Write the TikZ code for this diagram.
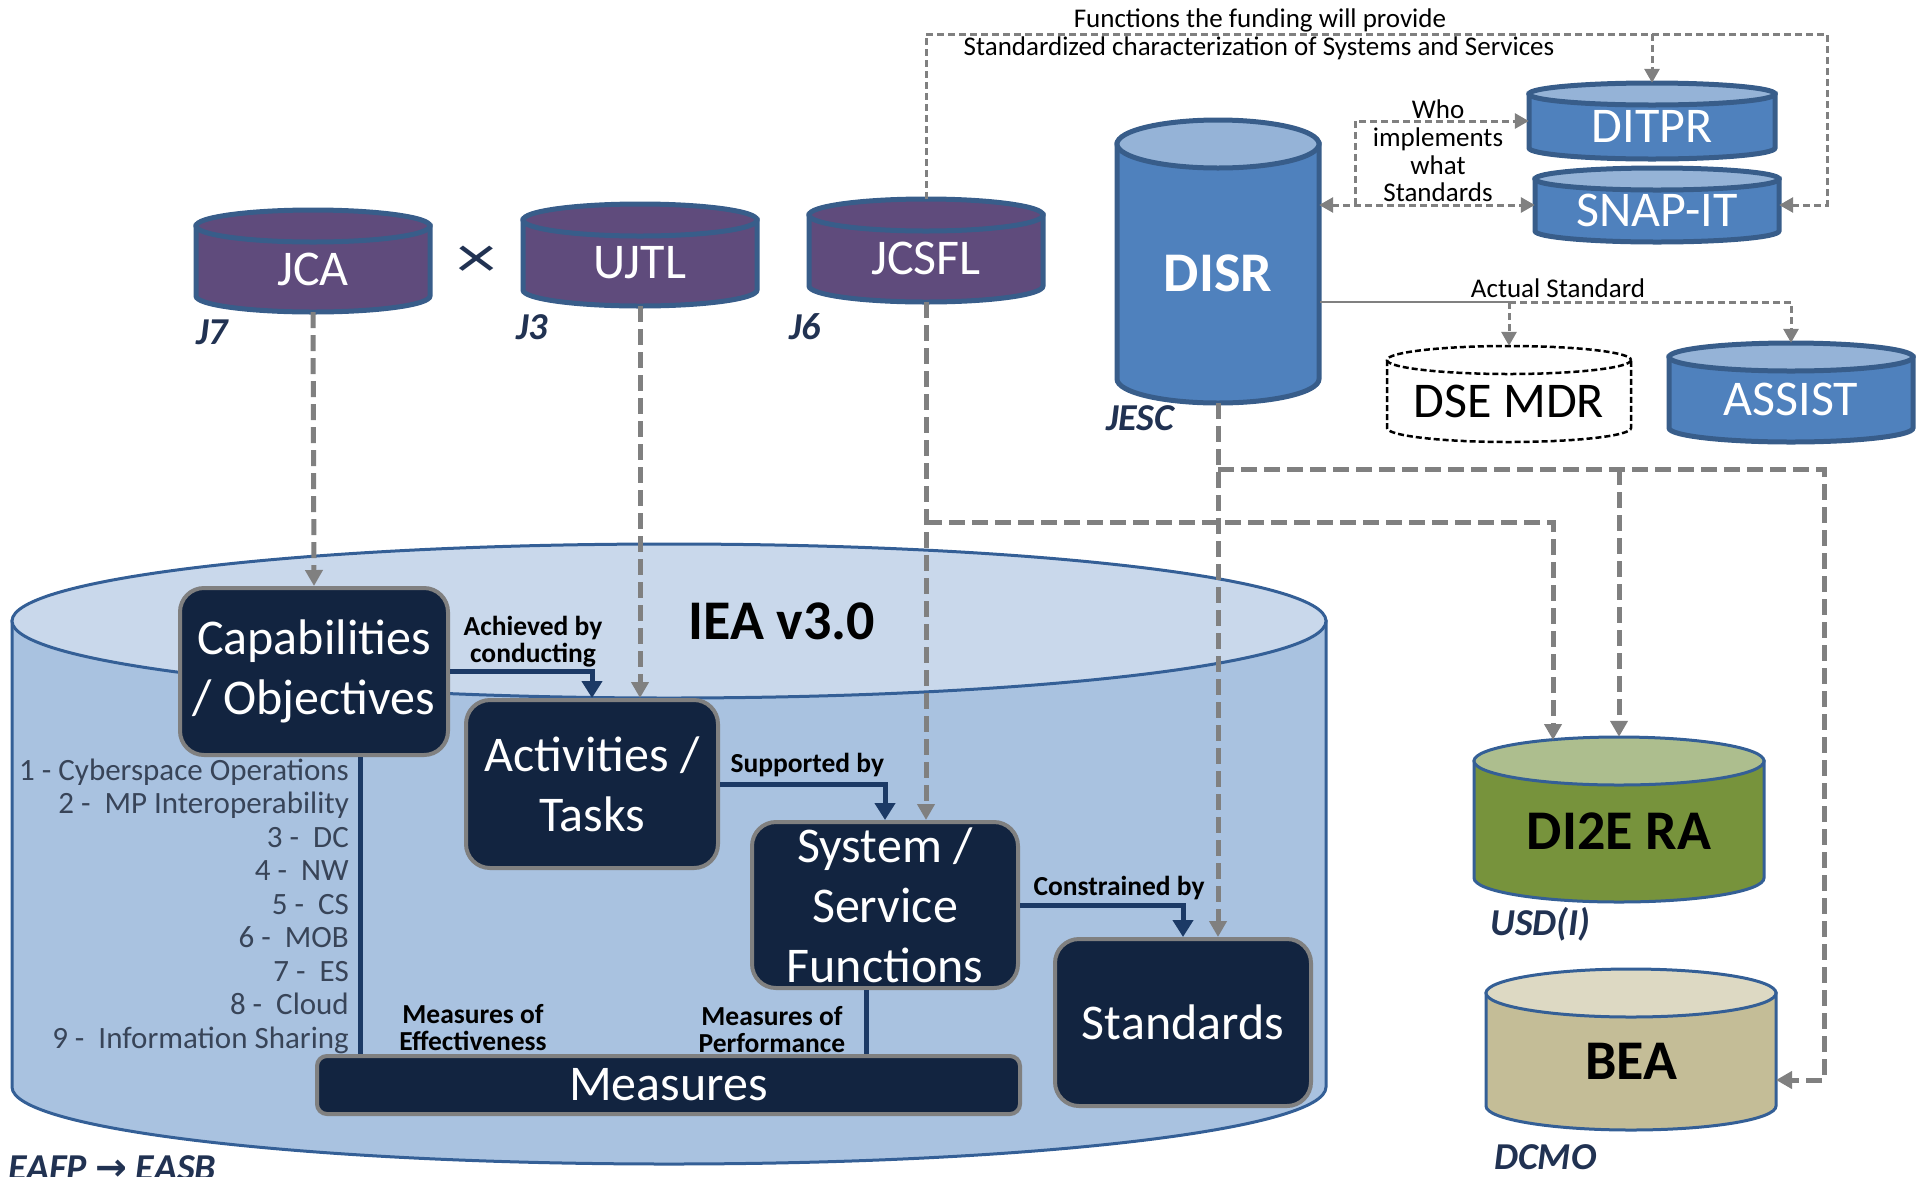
\documentclass[tikz,border=0pt]{standalone}
\usepackage{fontspec}
\setmainfont{Carlito}
\newfontfamily\arrowfont{DejaVu Sans}
\usetikzlibrary{arrows.meta,calc}
\definecolor{boxnavy}{RGB}{18,36,64}
\definecolor{boxrim}{RGB}{128,128,128}
\definecolor{linkblue}{RGB}{28,58,102}
\definecolor{ieaside}{RGB}{169,194,224}
\definecolor{ieatop}{RGB}{201,216,235}
\definecolor{ieaedge}{RGB}{52,95,150}
\definecolor{jpurple}{RGB}{95,75,124}
\definecolor{dbedge}{RGB}{56,93,138}
\definecolor{dbblue}{RGB}{79,129,189}
\definecolor{dbtop}{RGB}{149,179,215}
\definecolor{raside}{RGB}{119,147,60}
\definecolor{ratop}{RGB}{173,190,142}
\definecolor{beaside}{RGB}{196,189,151}
\definecolor{beatop}{RGB}{221,217,195}
\definecolor{routegray}{RGB}{128,128,128}
\definecolor{listtext}{RGB}{56,68,88}
\definecolor{ownerblue}{RGB}{33,50,82}
\tikzset{
  box/.style={rectangle,rounded corners=24pt,fill=boxnavy,draw=boxrim,line width=4pt,
    text=white,align=center,inner sep=0pt,font=\fontsize{50}{60}\selectfont},
  bar/.style={box,rounded corners=10pt},
  link/.style={draw=linkblue,line width=5pt,-{Triangle[width=20pt,length=17pt]}},
  stem/.style={draw=linkblue,line width=5pt},
  feed/.style={draw=routegray,line width=5pt,dash pattern=on 16pt off 7pt,-{Triangle[width=17pt,length=16pt]}},
  route/.style={draw=routegray,line width=3pt,dash pattern=on 7pt off 4pt,-{Triangle[width=15pt,length=14pt]}},
  tag/.style={font=\fontsize{27.5}{27}\bfseries\selectfont,align=center},
  note/.style={font=\fontsize{27}{27.7}\selectfont,align=center},
  owner/.style={font=\fontsize{38}{40}\bfseries\itshape\selectfont,text=ownerblue,anchor=west,inner sep=0pt},
  white text/.style={text=white,font=\fontsize{50}{60}\selectfont},
  bold white/.style={text=white,font=\fontsize{56}{60}\bfseries\selectfont},
  black text/.style={text=black,font=\fontsize{50}{60}\selectfont},
  bold black/.style={text=black,font=\fontsize{56}{60}\bfseries\selectfont},
  % cylinder looks
  iea body/.style={fill=ieaside,draw=ieaedge,line width=3pt},
  iea top/.style={fill=ieatop,draw=ieaedge,line width=3pt},
  j body/.style={fill=jpurple,draw=dbedge,line width=5pt},
  j top/.style={j body},
  db body/.style={fill=dbblue,draw=dbedge,line width=5pt},
  db top/.style={fill=dbtop,draw=dbedge,line width=5pt},
  mdr body/.style={fill=white,draw=black,line width=2.5pt,dash pattern=on 6pt off 3pt},
  mdr top/.style={mdr body},
  ra body/.style={fill=raside,draw=ieaedge,line width=3pt},
  ra top/.style={fill=ratop,draw=ieaedge,line width=3pt},
  bea body/.style={fill=beaside,draw=ieaedge,line width=3pt},
  bea top/.style={fill=beatop,draw=ieaedge,line width=3pt},
}
% name, centre x, top, bottom, x radius, y radius, look, text style, text
\newcommand{\drum}[9]{%
  \pgfmathsetmacro{\drumtc}{#3+#6}%
  \pgfmathsetmacro{\drumbc}{#4-#6}%
  \path[#7 body] (#2-#5,\drumtc) -- (#2-#5,\drumbc)
    arc[start angle=180,end angle=0,x radius=#5,y radius=#6] -- (#2+#5,\drumtc) -- cycle;
  \path[#7 top] (#2,\drumtc) ellipse[x radius=#5,y radius=#6];
  \node[inner sep=0pt,minimum width=2*#5,minimum height=#4-#3] (#1) at (#2,{(#3+#4)/2}) {};
  \node[#8] (#1-t) at (#2,{(\drumtc+#4)/2}) {#9};
}
\begin{document}
\begin{tikzpicture}[x=1pt,y=-1pt]
\useasboundingbox (0,0) rectangle (1916,1176);
% architecture store
\drum{iea}{669}{544}{1164}{657}{77}{iea}{tag}{}
\node[font=\fontsize{56}{60}\bfseries\selectfont] (ieaname) at (782,621) {IEA v3.0};
% sources
\drum{jca}{313}{210}{312}{117}{16}{j}{white text}{JCA}
\drum{ujtl}{640}{204}{306}{117}{16}{j}{white text}{UJTL}
\drum{jcsfl}{926}{199}{302}{117}{16}{j}{white text}{JCSFL}
\drum{disr}{1218}{120}{403}{101}{24}{db}{bold white}{DISR}
\drum{ditpr}{1652}{83}{159}{123}{11}{db}{white text}{DITPR}
\drum{snap}{1657}{168}{242}{122}{11}{db}{white text}{SNAP-IT}
\drum{mdr}{1509}{346}{442}{122}{14}{mdr}{black text}{DSE MDR}
\drum{assist}{1791}{343}{442}{122}{14}{db}{white text}{ASSIST}
\drum{ra}{1619}{737}{902}{145}{24}{ra}{bold black}{DI2E RA}
\drum{bea}{1631}{969}{1130}{145}{24}{bea}{bold black}{BEA}
\node[text=ownerblue,font=\fontsize{60}{60}\selectfont] (cross) at (477,262) {\scalebox{1.35}[1]{×}};
% owners
\node[owner] (j7) at (196,332) {J7};
\node[owner] (j3) at (516,327) {J3};
\node[owner] (j6) at (789,327) {J6};
\node[owner] (jesc) at (1106,418) {JESC};
\node[owner] (usdi) at (1490,924) {USD(I)};
\node[owner] (dcmo) at (1494,1157) {DCMO};
\node[owner,anchor=base west] (eafp) at (8,1180) {EAFP {\arrowfont →} EASB};
% architecture content
\node[box,minimum width=268,minimum height=167] (cap) at (314,671.5) {Capabilities\\/ Objectives};
\node[box,minimum width=252,minimum height=168] (act) at (592,784) {Activities /\\Tasks};
\node[box,minimum width=266,minimum height=166] (sys) at (885,905) {System /\\Service\\Functions};
\node[box,minimum width=256,minimum height=167] (std) at (1183,1022.5) {Standards};
\node[bar,minimum width=703,minimum height=58] (meas) at (668.5,1085) {Measures};
\node[anchor=east,align=right,text=listtext,font=\fontsize{31}{33.5}\selectfont,inner sep=0pt] (caplist) at (349,906)
  {1 - Cyberspace Operations\\2 -\ \ MP Interoperability\\3 -\ \ DC\\4 -\ \ NW\\5 -\ \ CS\\
   6 -\ \ MOB\\7 -\ \ ES\\8 -\ \ Cloud\\9 -\ \ Information Sharing};
\draw[link] (cap.east) -| (act.north);
\draw[link] (act.east) -| (sys.north);
\draw[link] (sys.east) -| (std.north);
\draw[stem] ([xshift=46]cap.south) -- ([xshift=46]cap.south |- meas.north);
\draw[stem] ([xshift=-19]sys.south) -- ([xshift=-19]sys.south |- meas.north);
\node[tag] (achieved) at (533,642) {Achieved by\\conducting};
\node[tag,anchor=base west] (supported) at (727,772) {Supported by};
\node[tag,anchor=base west] (constrained) at (1030,895) {Constrained by};
\node[tag] (moe) at (473,1028) {Measures of\\Effectiveness};
\node[tag] (mop) at (772,1030) {Measures of\\Performance};
% feeds into the store
\coordinate (jfork) at (926,522);
\coordinate (dfork) at (1218,469);
\coordinate (raA) at (1553,740);
\coordinate (bend) at (1824,1080);
\coordinate (beaR) at (1776,1080);
\draw[feed] (jca.south) -- (cap.north);
\draw[feed] (ujtl.south) -- (ujtl.south |- act.north);
\draw[feed] (jcsfl.south) -- (jcsfl.south |- sys.north);
\draw[feed] (disr.south) -- (disr.south |- std.north);
\draw[feed] (jfork) -| (raA);
\draw[feed] (dfork) -| (bend) -- (beaR);
\draw[feed] (dfork -| ra.north) -- (ra.north);
% standards routes
\coordinate (tr) at (1827,34);
\coordinate (wk) at (1355,205);
\coordinate (astd) at (1320,302);
\draw[route] (jcsfl.north) |- (tr) |- (snap.east);
\draw[route] (ditpr.north |- tr) -- (ditpr.north);
\draw[route,{Triangle[width=15pt,length=14pt]}-{Triangle[width=15pt,length=14pt]}] (disr.east |- snap.west) -- (snap.west);
\draw[route] (wk) |- (ditpr.west);
\draw[draw=routegray,line width=2.5pt] (astd) -- (astd -| mdr.north);
\draw[route] (astd -| mdr.north) -- (mdr.north);
\draw[route] (astd -| mdr.north) -| (assist.north);
\node[note] (fund) at (1260,20) {Functions the funding will provide};
\node[note] (charac) at (1259,48) {Standardized characterization of Systems and Services};
\node[note] (who) at (1438,151) {Who\\implements\\what\\Standards};
\node[note] (actual) at (1558,288) {Actual Standard};
\end{tikzpicture}
\end{document}
